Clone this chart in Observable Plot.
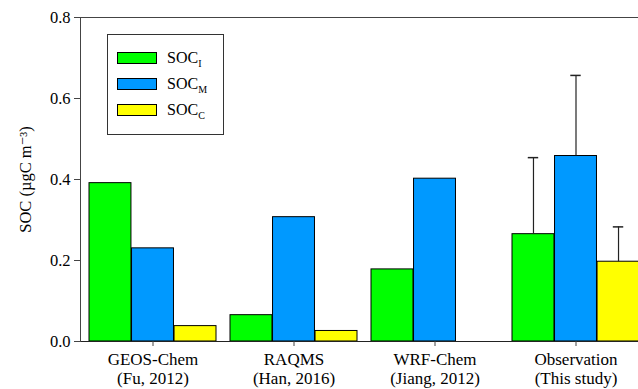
<!DOCTYPE html>
<html><head><meta charset="utf-8">
<script src="https://cdn.jsdelivr.net/npm/d3@7"></script>
<script src="https://cdn.jsdelivr.net/npm/@observablehq/plot@0.6"></script>
<style>
body{margin:0;overflow:hidden;background:#fff;font-family:"Liberation Serif","DejaVu Serif","Times New Roman",serif;}
#wrap{position:relative;width:638px;height:389px;overflow:hidden;}
#legend{position:absolute;left:107px;top:34px;width:117px;height:101px;border:1px solid #333;box-sizing:border-box;background:#fff;}
.row{position:absolute;left:9px;height:20px;display:flex;align-items:center;font-size:16px;color:#000;}
.sw{width:38px;height:10px;border:1px solid #000;margin-right:10px;}
.row sub{font-size:10px;vertical-align:-4px;line-height:0;}
</style></head><body>
<div id="wrap"><div id="chart"></div><div id="legend"></div></div>
<script>
const categories = ["GEOS-Chem", "RAQMS", "WRF-Chem", "Observation"];
const sources = ["(Fu, 2012)", "(Han, 2016)", "(Jiang, 2012)", "(This study)"];
const seriesNames = ["I", "M", "C"];
const seriesColors = ["#00ff00", "#0099ff", "#ffff00"];
const socI = [0.391, 0.065, 0.178, 0.265];
const socM = [0.230, 0.307, 0.402, 0.458];
const socC = [0.038, 0.026, null, 0.197];
const errI = [null, null, null, 0.189];
const errM = [null, null, null, 0.199];
const errC = [null, null, null, 0.086];
const yTicks = [0, 0.2, 0.4, 0.6, 0.8];

const FONT = '"Liberation Serif", "DejaVu Serif", "Times New Roman", serif';

const values = [socI, socM, socC];
const errs = [errI, errM, errC];

const W = 638, H = 389, mL = 80, mT = 17, mB = 48;
const xRange = [80, 647];
const pIn = 0.1, pOut = 0.05;
const step = (xRange[1] - xRange[0]) / (categories.length - pIn + 2 * pOut);
const bw = step * (1 - pIn);
const third = bw / 3;
const capW = 11;

const marks = [];
values.forEach((arr, k) => {
  const data = categories.map((c, i) => ({cat: c, v: arr[i], e: errs[k][i]})).filter(d => d.v != null);
  marks.push(Plot.barY(data, {
    x: "cat", y: "v", fill: seriesColors[k], stroke: "#000", strokeWidth: 1,
    insetLeft: k * third, insetRight: (2 - k) * third
  }));
});
values.forEach((arr, k) => {
  const data = categories.map((c, i) => ({cat: c, v: arr[i], e: errs[k][i]})).filter(d => d.v != null && d.e != null);
  const center = (k + 0.5) * third;
  marks.push(Plot.ruleX(data, {x: "cat", y1: "v", y2: d => d.v + d.e, dx: center - bw / 2, stroke: "#222", strokeWidth: 1.2}));
  marks.push(Plot.tickY(data, {x: "cat", y: d => d.v + d.e, insetLeft: center - capW / 2, insetRight: bw - center - capW / 2, stroke: "#222", strokeWidth: 1.5}));
});
marks.push(Plot.ruleY([0.8], {stroke: "#444", strokeWidth: 1}));
marks.push(Plot.ruleY([0], {stroke: "#222", strokeWidth: 1}));
marks.push(Plot.frame({anchor: "left", stroke: "#444", strokeWidth: 1}));
marks.push(Plot.axisX({
  anchor: "bottom", tickSize: 5, tickPadding: 5, fontSize: 17, lineHeight: 1.12,
  fontFamily: FONT,
  tickFormat: d => d + "\n" + sources[categories.indexOf(d)], label: null, stroke: "#444", fill: "#000"
}));
marks.push(Plot.axisY({
  ticks: yTicks, tickFormat: ".1f", tickSize: 6, tickPadding: 4, fontSize: 16.5,
  fontFamily: FONT,
  label: "SOC (µgC m⁻³)", labelAnchor: "center", labelArrow: "none", labelOffset: 61, stroke: "#444", fill: "#000"
}));

const chart = Plot.plot({
  width: W, height: H, marginLeft: mL, marginRight: 0, marginTop: mT, marginBottom: mB,
  style: {fontFamily: FONT, background: "#fff", color: "#000"},
  x: {type: "band", domain: categories, range: xRange, paddingInner: pIn, paddingOuter: pOut, axis: null},
  y: {domain: [0, 0.8], axis: null},
  marks
});
document.getElementById("chart").appendChild(chart);

const legend = document.getElementById("legend");
const rowCenters = [23, 49, 75];
seriesNames.forEach((s, k) => {
  const row = document.createElement("div");
  row.className = "row";
  row.style.top = (rowCenters[k] - 10) + "px";
  row.innerHTML = `<div class="sw" style="background:${seriesColors[k]}"></div><span>SOC<sub>${s}</sub></span>`;
  legend.appendChild(row);
});
</script>
</body></html>
